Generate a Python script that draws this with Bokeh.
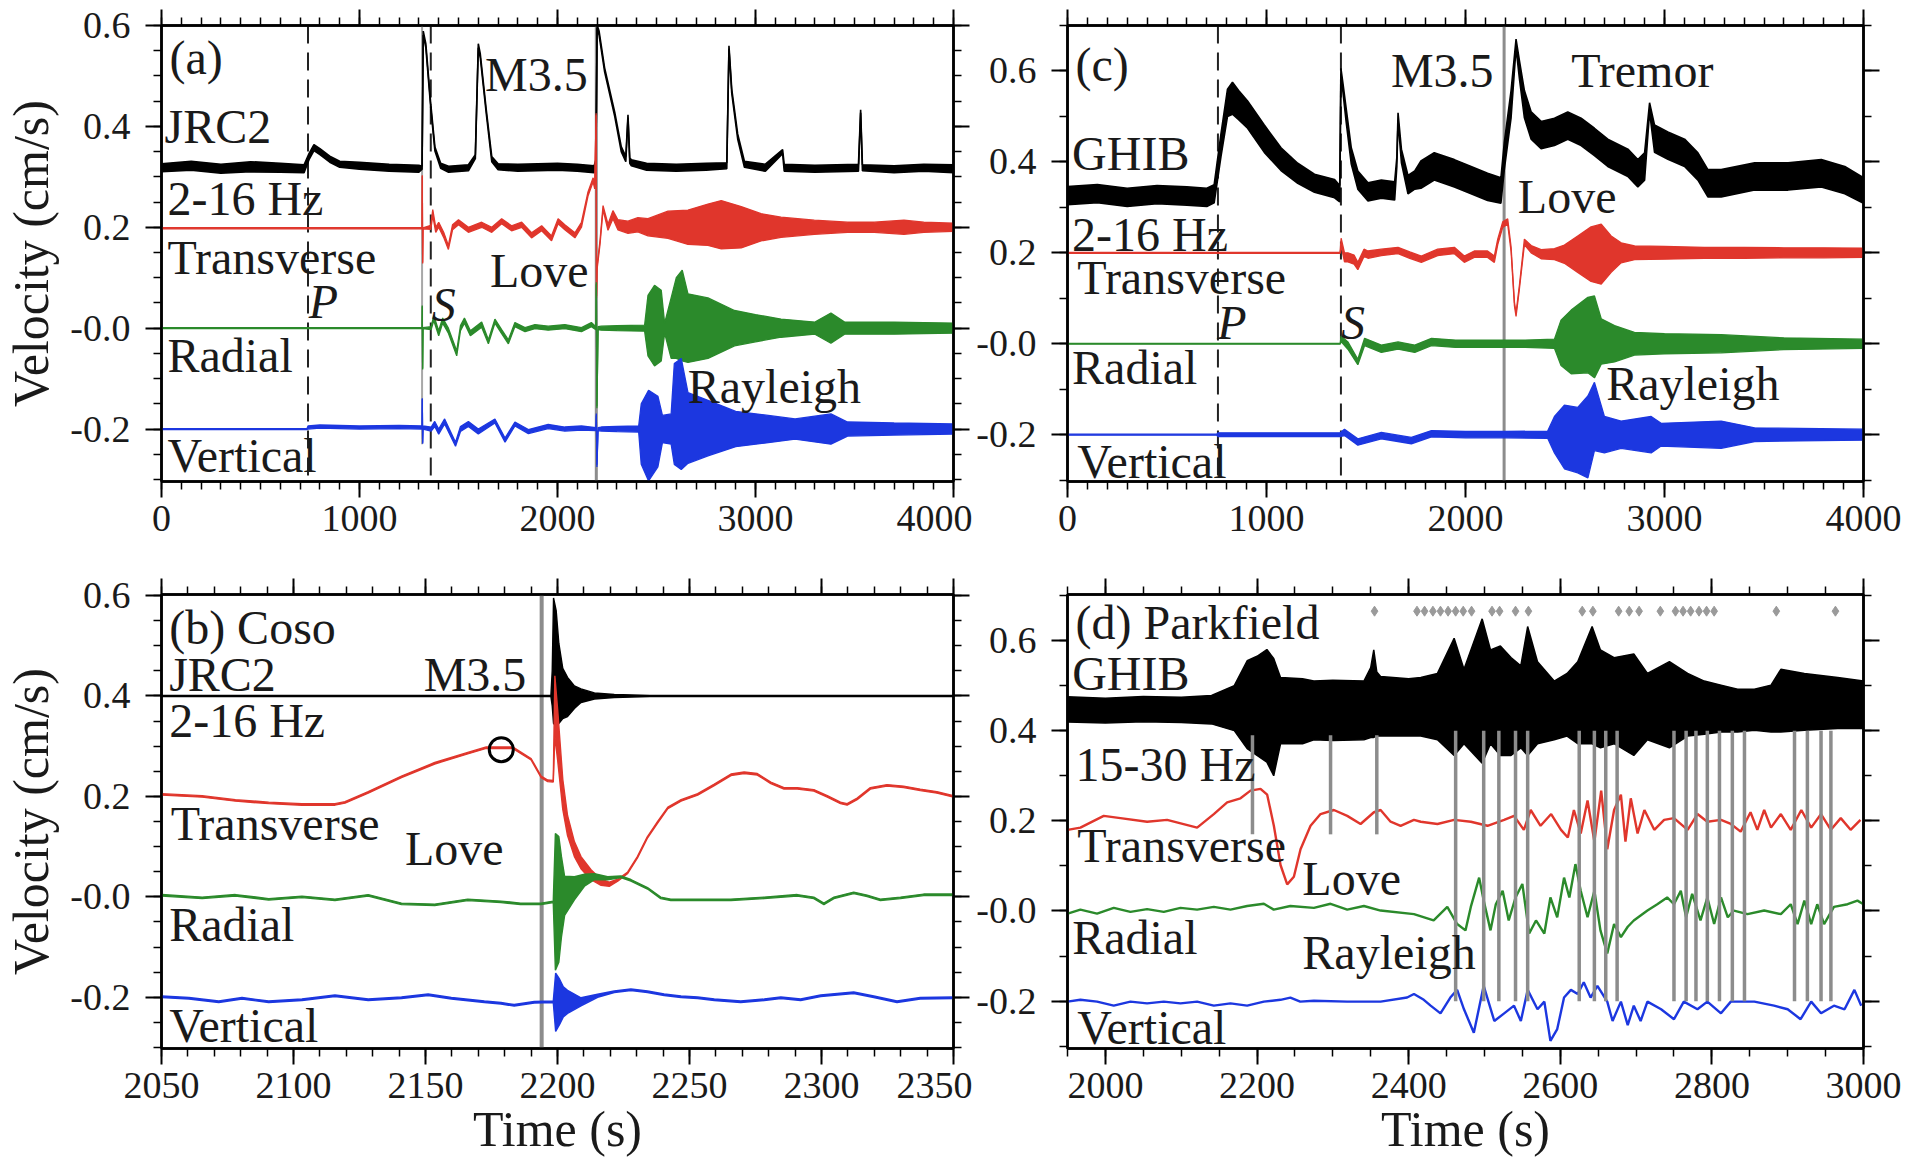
from bokeh.plotting import figure
from bokeh.models import FixedTicker, LinearAxis, Range1d, Span
from bokeh.layouts import gridplot
from bokeh.embed import file_html
from bokeh.resources import INLINE
from bokeh.core.properties import value

FONT = "Liberation Serif"
RED, GREEN, BLUE, INK, GRAY = "#e0362c", "#2b8a2b", "#1c37e0", "#000000", "#8c8c8c"
TXT = "#1a1a1a"

# ------------------------------------------------------------------ data
# Panel (a): JRC2, 2-16 Hz envelope + three components (time s, trace centre, half spread) in cm/s
a_jrc2_t = [0, 150, 300, 450, 600, 720, 745, 770, 800, 850, 900, 1000, 1150, 1300, 1316, 1322, 1335, 1360, 1381, 1410,
            1450, 1550, 1585, 1600, 1610, 1640, 1668, 1700, 1800, 2000, 2100, 2185, 2194, 2200, 2210, 2238, 2289, 2322, 2345, 2356,
            2365, 2373, 2450, 2600, 2750, 2855, 2866, 2880, 2910, 2944, 3050, 3137, 3145, 3300, 3520, 3531, 3540, 3700, 3850, 4000]
a_jrc2_mid = [.318, .322, .316, .320, .318, .316, .340, .358, .350, .335, .325, .322, .318, .316, .318, .585, .560, .440, .355, .322,
              .315, .318, .340, .560, .540, .430, .335, .320, .318, .320, .318, .315, .330, .598, .585, .512, .424, .355, .335, .420,
              .332, .328, .320, .318, .320, .322, .557, .470, .380, .325, .318, .350, .318, .316, .318, .430, .318, .315, .318, .316]
a_jrc2_spr = [.008, .009, .009, .010, .009, .008, .006, .006, .006, .006, .006, .007, .007, .007, .003, .004, .004, .004, .004, .005,
              .006, .006, .004, .004, .004, .004, .005, .006, .007, .007, .007, .007, .004, .003, .004, .004, .004, .005, .005, .003,
              .005, .006, .007, .007, .007, .006, .003, .004, .005, .006, .007, .004, .007, .007, .007, .003, .006, .007, .007, .008]

a_tr_t = [0, 1300, 1316, 1317, 1319, 1321, 1360, 1370, 1385, 1400, 1425, 1449, 1470, 1500, 1550, 1617, 1668, 1718, 1768, 1819,
          1869, 1920, 1970, 2003, 2037, 2088, 2121, 2154, 2180, 2188, 2195, 2197, 2200, 2215, 2230, 2255, 2280, 2305, 2356, 2406,
          2457, 2558, 2659, 2760, 2827, 2928, 3028, 3129, 3297, 3465, 3600, 3750, 3850, 4000]
a_tr_mid = [.198, .198, .198, .302, .129, .198, .200, .229, .195, .205, .185, .160, .200, .210, .195, .205, .195, .212, .198, .205,
            .184, .198, .178, .212, .200, .184, .205, .266, .294, .280, .424, .062, .120, .171, .239, .200, .225, .205, .200, .205,
            .200, .205, .200, .205, .205, .200, .200, .200, .200, .200, .200, .200, .200, .200]
a_tr_spr = [.001, .001, .001, .001, .001, .001, .004, .006, .005, .005, .005, .004, .005, .005, .005, .005, .005, .005, .005, .005,
            .005, .005, .005, .005, .005, .005, .005, .004, .004, .004, .002, .002, .003, .004, .004, .006, .008, .010, .012, .014,
            .017, .027, .034, .041, .048, .041, .027, .020, .014, .010, .010, .014, .010, .008]

a_ra_t = [0, 1316, 1317, 1319, 1321, 1362, 1375, 1400, 1420, 1449, 1491, 1510, 1530, 1560, 1617, 1651, 1684, 1718, 1752, 1785,
          1836, 1886, 1953, 2037, 2121, 2171, 2194, 2196, 2199, 2205, 2221, 2300, 2440, 2457, 2490, 2524, 2541, 2574, 2600, 2630,
          2659, 2760, 2894, 3000, 3129, 3300, 3381, 3450, 3700, 4000]
a_ra_mid = [0, 0, .044, -.081, 0, 0, .020, -.010, .015, -.005, -.050, 0, .015, -.010, .007, -.027, .014, -.007, -.027, .007,
            -.003, .003, 0, .003, -.003, .007, 0, .089, -.157, 0, 0, 0, 0, .005, .005, .005, 0, 0, .020, .025,
            0, 0, 0, 0, 0, 0, 0, 0, 0, 0]
a_ra_spr = [.001, .001, .001, .001, .001, .003, .005, .005, .005, .005, .005, .005, .005, .005, .005, .004, .004, .004, .004, .004,
            .004, .004, .004, .004, .004, .004, .003, .002, .002, .003, .004, .005, .006, .060, .080, .070, .010, .060, .080, .090,
            .068, .060, .035, .027, .018, .012, .030, .012, .012, .010]

a_ve_t = [0, 735, 740, 800, 1000, 1200, 1316, 1317, 1319, 1321, 1362, 1380, 1400, 1430, 1485, 1510, 1550, 1600, 1684, 1735,
          1785, 1853, 1953, 2037, 2121, 2194, 2196, 2199, 2205, 2221, 2300, 2410, 2423, 2460, 2507, 2530, 2574, 2590, 2625, 2659,
          2760, 2900, 3045, 3200, 3381, 3465, 3700, 4000]
a_ve_mid = [-.200, -.200, -.197, -.195, -.197, -.196, -.197, -.140, -.228, -.197, -.200, -.190, -.205, -.185, -.230, -.200, -.190, -.205, -.184, -.222,
            -.190, -.205, -.195, -.200, -.198, -.200, -.171, -.273, -.200, -.200, -.200, -.200, -.210, -.213, -.205, -.200, -.200, -.170, -.170, -.198,
            -.198, -.200, -.200, -.200, -.200, -.200, -.200, -.200]
a_ve_spr = [.001, .001, .003, .003, .003, .003, .003, .001, .001, .003, .004, .005, .005, .005, .004, .005, .005, .005, .004, .004,
            .004, .004, .004, .004, .004, .003, .002, .002, .003, .004, .005, .006, .060, .090, .070, .027, .030, .100, .110, .070,
            .055, .035, .028, .020, .030, .014, .012, .010]

a_phase_t = [740, 1360]          # P and S arrivals (dashed)
a_event_t = [2196]               # M3.5 origin (grey line)
a_glitch_t = [1316]              # short grey line
a_glitch_lo, a_glitch_hi = [-0.23], [0.6]

# Panel (c): GHIB
c_ghib_t = [0, 150, 300, 450, 600, 700, 737, 771, 804, 829, 860, 905, 989, 1073, 1157, 1241, 1342, 1368, 1374, 1385,
            1400, 1426, 1459, 1510, 1577, 1644, 1655, 1661, 1678, 1711, 1745, 1776, 1843, 1944, 2028, 2111, 2178, 2195, 2229, 2254,
            2271, 2296, 2330, 2380, 2447, 2514, 2581, 2648, 2715, 2816, 2866, 2900, 2925, 2950, 3017, 3101, 3168, 3218, 3285, 3453,
            3621, 3788, 3906, 4000]
c_ghib_mid = [.326, .330, .322, .328, .325, .322, .330, .436, .530, .540, .525, .504, .451, .406, .375, .353, .341, .330, .600, .560,
              .504, .413, .360, .334, .340, .336, .400, .500, .413, .350, .360, .372, .390, .375, .360, .345, .337, .413, .527, .660,
              .603, .527, .480, .459, .466, .480, .466, .444, .420, .398, .375, .390, .520, .451, .436, .420, .390, .353, .353, .368,
              .368, .375, .360, .337]
c_ghib_spr = [.020, .020, .020, .020, .020, .020, .020, .025, .030, .035, .032, .030, .030, .025, .022, .020, .020, .018, .006, .010,
              .015, .018, .020, .020, .020, .020, .010, .008, .015, .020, .020, .030, .030, .030, .030, .030, .028, .030, .030, .010,
              .020, .030, .030, .030, .030, .030, .030, .030, .030, .030, .030, .030, .010, .030, .030, .030, .030, .030, .030, .030,
              .030, .030, .030, .028]

c_tr_t = [0, 1370, 1375, 1392, 1409, 1440, 1459, 1490, 1510, 1577, 1661, 1720, 1778, 1860, 1944, 1994, 2044, 2111, 2145, 2162,
          2187, 2212, 2229, 2246, 2254, 2271, 2296, 2330, 2380, 2447, 2497, 2564, 2631, 2682, 2732, 2782, 2850, 3000, 3200, 3400,
          3600, 3800, 4000]
c_tr_mid = [.200, .200, .224, .190, .190, .185, .171, .200, .196, .201, .205, .195, .186, .201, .205, .186, .197, .197, .186, .224,
            .262, .269, .208, .087, .064, .125, .224, .208, .197, .197, .197, .197, .197, .197, .197, .200, .200, .200, .200, .200,
            .200, .200, .200]
c_tr_spr = [.001, .001, .008, .010, .010, .010, .008, .008, .008, .007, .007, .007, .007, .007, .007, .007, .007, .007, .007, .006,
            .006, .006, .005, .004, .004, .004, .006, .008, .010, .012, .020, .040, .060, .066, .040, .022, .015, .014, .012, .012,
            .011, .011, .010]

c_ra_t = [0, 1370, 1375, 1409, 1459, 1493, 1577, 1661, 1745, 1829, 1950, 2100, 2190, 2300, 2447, 2480, 2531, 2615, 2648, 2682,
          2749, 2849, 3000, 3285, 3600, 4000]
c_ra_mid = [0, 0, .011, -.004, -.040, .004, -.011, -.004, -.011, .004, 0, 0, 0, 0, 0, .002, .004, .019, .015, .005,
            0, 0, 0, 0, 0, 0]
c_ra_spr = [.001, .001, .006, .008, .006, .008, .008, .008, .008, .008, .008, .008, .008, .008, .010, .050, .070, .083, .090, .050,
            .040, .025, .022, .020, .013, .010]

c_ve_t = [0, 750, 756, 1000, 1370, 1392, 1459, 1577, 1728, 1829, 2000, 2200, 2413, 2447, 2497, 2564, 2615, 2648, 2698, 2782,
          2933, 2983, 3285, 3453, 4000]
c_ve_mid = [-.200, -.200, -.200, -.200, -.200, -.195, -.216, -.202, -.213, -.198, -.200, -.200, -.200, -.200, -.205, -.212, -.205, -.160, -.200, -.200,
            -.200, -.200, -.200, -.200, -.200]
c_ve_spr = [.001, .001, .004, .004, .004, .007, .007, .007, .007, .007, .007, .007, .008, .040, .070, .072, .090, .075, .040, .030,
            .040, .025, .030, .015, .012]

c_phase_t = [756, 1374]
c_event_t = [2194]

# Panel (b): Coso zoom
b_jrc2_t = [2050, 2197.5, 2198.0, 2198.5, 2199.5, 2200.5, 2202, 2203.8, 2206.4, 2208.9, 2214, 2221.5, 2235, 2350]
b_jrc2_mid = [.400, .400, .415, .470, .455, .425, .405, .398, .3975, .4005, .400, .400, .400, .400]
b_jrc2_spr = [.001, .001, .035, .125, .115, .080, .050, .039, .0225, .0135, .006, .003, .001, .001]

b_tr_t = [2050.1, 2065.4, 2078, 2090.6, 2103.2, 2115.7, 2119.5, 2128.3, 2140.9, 2153.5, 2166, 2173, 2178.6, 2183, 2190,
          2193.8, 2196.3, 2198.4, 2199.0, 2200.1, 2202, 2203.8, 2206.4, 2208.9, 2212.7, 2216.5, 2219.6, 2222.8, 2226.6, 2230.3,
          2234, 2238, 2241.8, 2246.8, 2253.1, 2259.4, 2265.7, 2270.7, 2275.7, 2280.8, 2285.8, 2290.8, 2297.1, 2302.2, 2307.2,
          2309.7, 2313.5, 2318.5, 2324.8, 2331.1, 2337.4, 2343.7, 2350]
b_tr_mid = [.204, .200, .192, .187, .184, .184, .188, .208, .239, .266, .286, .297, .297, .297, .274,
            .239, .231, .230, .380, .320, .204, .142, .095, .068, .044, .029, .025, .033, .048, .079,
            .118, .149, .177, .192, .204, .223, .243, .247, .244, .227, .216, .216, .212, .200, .187,
            .184, .195, .216, .222, .219, .213, .208, .200]
b_tr_spr = [.0015, .0015, .0015, .0015, .0015, .0015, .0015, .0015, .0015, .0015, .0015, .0015, .0015, .0015, .0015,
            .0015, .0015, .0015, .060, .050, .030, .020, .015, .012, .010, .006, .004, .002, .0015, .0015,
            .0015, .0015, .0015, .0015, .0015, .0015, .0015, .0015, .0015, .0015, .0015, .0015, .0015, .0015, .0015,
            .0015, .0015, .0015, .0015, .0015, .0015, .0015, .0015]

b_ra_t = [2050.1, 2065.4, 2078, 2090.6, 2103.2, 2115.7, 2128.3, 2140.9, 2153.5, 2166, 2178.6, 2186, 2193.8, 2198.4, 2199.2,
          2200.5, 2201.5, 2202.7, 2206.4, 2210.2, 2214, 2219, 2224, 2227.8, 2234.1, 2239.1, 2242.9, 2253.1, 2265.7, 2278.3,
          2290.8, 2297.1, 2300.9, 2304.7, 2312.2, 2317.3, 2322.3, 2329.9, 2338.7, 2350]
b_ra_mid = [.003, -.002, .003, -.005, 0, -.006, .003, -.014, -.016, -.006, -.010, -.014, -.014, -.010, -.010,
            -.005, 0, .002, .017, .033, .040, .037, .040, .033, .017, -.002, -.006, -.006, -.006, -.002,
            .003, -.002, -.014, -.002, .008, .002, -.006, -.002, .004, .004]
b_ra_spr = [.0015, .0015, .0015, .0015, .0015, .0015, .0015, .0015, .0015, .0015, .0015, .0015, .0015, .0015, .136,
            .125, .080, .039, .023, .012, .006, .003, .0015, .0015, .0015, .0015, .0015, .0015, .0015, .0015,
            .0015, .0015, .0015, .0015, .0015, .0015, .0015, .0015, .0015, .0015]

b_ve_t = [2050.1, 2060.4, 2071.7, 2080.5, 2090.6, 2103.2, 2115.7, 2128.3, 2140.9, 2151, 2159.8, 2172.3, 2178.6, 2183.6, 2191.2,
          2198.4, 2199.3, 2200.8, 2202.2, 2203.8, 2208.9, 2215.2, 2221.5, 2227.8, 2234.1, 2240.4, 2246.8, 2253.1, 2259.4, 2269.4,
          2278.3, 2284.6, 2292.1, 2299.7, 2312.2, 2319.8, 2328.6, 2337.4, 2350]
b_ve_mid = [-.199, -.202, -.209, -.202, -.209, -.205, -.197, -.205, -.201, -.195, -.202, -.209, -.212, -.216, -.210,
            -.209, -.210, -.209, -.209, -.209, -.209, -.197, -.189, -.185, -.189, -.195, -.199, -.201, -.205, -.209,
            -.205, -.201, -.205, -.197, -.191, -.199, -.209, -.202, -.201]
b_ve_spr = [.0015, .0015, .0015, .0015, .0015, .0015, .0015, .0015, .0015, .0015, .0015, .0015, .0015, .0015, .0015,
            .0015, .058, .045, .030, .023, .008, .003, .0015, .0015, .0015, .0015, .0015, .0015, .0015, .0015,
            .0015, .0015, .0015, .0015, .0015, .0015, .0015, .0015, .0015]

b_event_t = [2194]
b_circle_t, b_circle_v = [2178.7], [0.293]

# Panel (d): Parkfield, GHIB 15-30 Hz band (lower / upper edge) + components
d_ghib_t = [1950, 2000, 2050, 2100, 2140, 2170, 2187, 2200, 2213, 2222, 2231, 2260, 2275, 2300, 2341, 2350, 2354, 2358, 2363, 2400,
            2416, 2438, 2460, 2473, 2497, 2508, 2521, 2535, 2548, 2557, 2570, 2592, 2609, 2623, 2642, 2653, 2671, 2697, 2715, 2744,
            2768, 2790, 2812, 2834, 2856, 2878, 2891, 2922, 2966, 3000]
d_ghib_lo = [.419, .417, .420, .418, .415, .400, .360, .345, .330, .300, .371, .371, .380, .378, .380, .385, .385, .388, .388, .388,
             .388, .380, .345, .371, .328, .371, .345, .345, .362, .345, .371, .380, .388, .371, .371, .362, .371, .345, .380, .362,
             .388, .392, .397, .397, .401, .397, .397, .401, .405, .405]
d_ghib_hi = [.475, .472, .476, .474, .478, .500, .555, .565, .580, .560, .518, .515, .510, .512, .510, .540, .579, .530, .520, .515,
             .518, .527, .605, .536, .648, .579, .588, .562, .544, .631, .553, .510, .527, .553, .631, .579, .562, .570, .527, .553,
             .527, .510, .501, .492, .492, .501, .536, .527, .518, .510]

d_tr_t = [1950.2, 1967, 1997.8, 2019.8, 2055, 2081.4, 2121, 2143, 2160.6, 2178.2, 2191.4, 2204.6, 2213.4, 2222.2, 2231,
          2239.8, 2248.6, 2257.4, 2270.6, 2283.8, 2301.4, 2319, 2336.6, 2354.2, 2363, 2376.2, 2389.4, 2407,
          2416, 2438, 2460, 2482, 2504, 2526, 2539, 2552, 2561, 2574, 2588, 2601, 2610, 2618, 2627,
          2636, 2645, 2654, 2662, 2671, 2680, 2686, 2693, 2702, 2711, 2724, 2737, 2750, 2768, 2781,
          2794, 2812, 2825, 2838, 2851, 2860, 2869, 2878, 2891, 2904, 2918, 2931, 2944, 2957, 2970, 2983, 2996]
d_tr_v = [.180, .185, .211, .206, .198, .202, .185, .215, .241, .250, .267, .271, .258, .189, .102,
          .059, .076, .137, .189, .215, .224, .211, .193, .219, .224, .198, .189, .202,
          .198, .193, .202, .198, .189, .202, .211, .180, .224, .189, .215, .180, .163, .224, .172,
          .245, .154, .267, .137, .224, .258, .154, .250, .172, .224, .180, .202, .206, .180, .215,
          .198, .202, .193, .176, .219, .180, .224, .185, .215, .180, .224, .185, .215, .180, .206, .180, .202]

d_ra_t = [1950.2, 1967, 1989, 2011, 2033, 2055, 2077, 2099, 2121, 2143, 2165, 2187, 2209, 2222, 2244, 2275, 2297, 2319, 2341,
          2363, 2407, 2433, 2451, 2464, 2475, 2482, 2493, 2499, 2508, 2515, 2524, 2532, 2541, 2550, 2559, 2568, 2579, 2587, 2596,
          2605, 2612, 2620, 2627, 2636, 2645, 2653, 2662, 2671, 2680, 2689, 2697, 2715, 2728, 2741, 2750, 2759, 2766, 2774, 2785,
          2794, 2803, 2812, 2821, 2829, 2847, 2869, 2891, 2904, 2913, 2922, 2931, 2939, 2948, 2961, 2979, 2992, 3000]
d_ra_v = [-.006, .003, -.006, .007, -.002, .004, -.002, .007, .003, .009, .003, .011, .016, .003, .011, .007, .016, .003, .011,
          .001, -.007, -.021, .009, -.029, -.043, .009, .074, .023, -.043, .015, .045, -.021, .030, .060, -.050, -.021, -.050, .030, -.014,
          .074, .030, .104, .045, -.014, .045, -.043, -.094, -.029, -.058, -.035, -.021, .001, .015, .030, .015, .045, -.014, .038, -.021,
          .030, -.029, .030, -.014, .001, -.007, .001, -.007, .015, -.029, .023, -.029, .015, -.029, .009, .015, .023, .015]

d_ve_t = [1950, 1967, 1989, 2011, 2033, 2055, 2077, 2099, 2121, 2143, 2165, 2187, 2209, 2231, 2244, 2257, 2275, 2319, 2363, 2398,
          2407, 2420, 2429, 2442, 2455, 2464, 2473, 2486, 2499, 2513, 2526, 2539, 2548, 2557, 2570, 2579, 2587,
          2596, 2605, 2614, 2623, 2631, 2640, 2649, 2662, 2669, 2680, 2689, 2697, 2706, 2715, 2733,
          2750, 2763, 2781, 2794, 2812, 2825, 2856, 2882, 2900, 2917, 2931, 2944, 2961, 2975, 2988, 2997]
d_ve_v = [-.201, -.197, -.201, -.210, -.201, -.205, -.201, -.205, -.201, -.210, -.205, -.210, -.201, -.197, -.192, -.201, -.199, -.201, -.201, -.192,
          -.184, -.197, -.210, -.227, -.192, -.175, -.218, -.270, -.166, -.244, -.227, -.210, -.244, -.175, -.218, -.201, -.288,
          -.262, -.192, -.175, -.184, -.158, -.192, -.166, -.201, -.244, -.201, -.253, -.210, -.244, -.201, -.218,
          -.240, -.201, -.218, -.201, -.227, -.201, -.201, -.210, -.218, -.240, -.201, -.227, -.210, -.218, -.175, -.210]

d_short_t = [2194, 2297, 2358]                 # grey detection lines (short)
d_short_top, d_short_bot = 0.39, 0.17
d_long_t = [2462, 2499, 2519, 2541, 2557, 2625, 2645, 2660, 2675, 2750, 2766, 2779, 2794, 2810, 2827, 2843, 2909, 2926, 2944, 2957]
d_long_top, d_long_bot = 0.40, -0.20
d_mark_t = [2355, 2411, 2421, 2432, 2442, 2452, 2462, 2472, 2483, 2510, 2520, 2541, 2558, 2629, 2643, 2677, 2691, 2704,
            2732, 2752, 2762, 2772, 2783, 2793, 2803, 2885, 2963]
d_mark_level = 0.665

# labels: (text, time, velocity) placements
a_labels = [("(a)", 40, 0.537), ("JRC2", 15, 0.400), ("2-16 Hz", 30, 0.257), ("Transverse", 30, 0.141),
            ("Radial", 30, -0.054), ("Vertical", 30, -0.252), ("M3.5", 1634, 0.503), ("Love", 1659, 0.114),
            ("Rayleigh", 2658, -0.115)]
a_italic = [("P", 744, 0.052), ("S", 1365, 0.047)]
c_labels = [("(c)", 40, 0.615), ("GHIB", 23, 0.418), ("2-16 Hz", 23, 0.240), ("Transverse", 49, 0.145),
            ("Radial", 23, -0.052), ("Vertical", 49, -0.258), ("M3.5", 1625, 0.600), ("Tremor", 2531, 0.600),
            ("Love", 2263, 0.323), ("Rayleigh", 2707, -0.088)]
c_italic = [("P", 753, 0.047), ("S", 1374, 0.047)]
b_labels = [("(b) Coso", 2052.9, 0.536), ("JRC2", 2052.9, 0.443), ("2-16 Hz", 2052.9, 0.351), ("M3.5", 2149.3, 0.443),
            ("Transverse", 2053.5, 0.147), ("Love", 2142.2, 0.097), ("Radial", 2052.9, -0.055), ("Vertical", 2052.9, -0.257)]
d_labels = [("(d) Parkfield", 1960.6, 0.639), ("GHIB", 1956.2, 0.526), ("15-30 Hz", 1960.6, 0.326),
            ("Transverse", 1962.8, 0.145), ("Love", 2259.8, 0.072), ("Radial", 1956.2, -0.058),
            ("Rayleigh", 2259.8, -0.091), ("Vertical", 1962.8, -0.259)]

Y_TICKS = [-0.2, 0, 0.2, 0.4, 0.6]
Y_TEXT = {-0.2: "-0.2", 0: "-0.0", 0.2: "0.2", 0.4: "0.4", 0.6: "0.6"}


def check(*arrs):
    n = len(arrs[0])
    for a in arrs:
        if len(a) != n:
            raise ValueError("length mismatch %d vs %d" % (n, len(a)))


# ------------------------------------------------------------------ helpers
def style_axis(ax, labels=True):
    ax.axis_line_color = "black"
    ax.axis_line_width = 2.5
    ax.major_tick_in = 0
    ax.major_tick_out = 16
    ax.minor_tick_in = 0
    ax.minor_tick_out = 8
    ax.major_tick_line_color = "black"
    ax.major_tick_line_width = 2
    ax.minor_tick_line_color = "black"
    ax.minor_tick_line_width = 1.5
    if labels:
        ax.major_label_text_font = FONT
        ax.major_label_text_font_size = "38px"
        ax.major_label_text_color = TXT
    else:
        # tick marks only: no tick texts at all
        ax.major_label_text_color = None
        ax.major_label_text_alpha = 0
        ax.major_label_standoff = 0


def panel(width, height, left, right, top, bottom, xr, yr, xt, xm, ym, ylab=None, xlab=None):
    p = figure(width=width, height=height, x_range=Range1d(*xr), y_range=Range1d(*yr),
               output_backend="svg", toolbar_location=None, tools="",
               min_border_left=left, min_border_right=right, min_border_top=top, min_border_bottom=bottom)
    p.xgrid.visible = False
    p.ygrid.visible = False
    p.outline_line_color = "black"
    p.outline_line_width = 2.5
    p.outline_line_alpha = 1.0
    p.background_fill_color = "white"
    p.border_fill_color = "white"
    xb, yl = p.xaxis[0], p.yaxis[0]
    xb.ticker = FixedTicker(ticks=xt, minor_ticks=xm)
    yl.ticker = FixedTicker(ticks=Y_TICKS, minor_ticks=ym)
    style_axis(xb)
    style_axis(yl)
    xb.major_label_standoff = 8
    yl.major_label_standoff = 15
    yl.major_label_overrides = Y_TEXT
    for ax, lab, sd in ((yl, ylab, 8), (xb, xlab, 0)):
        if lab:
            ax.axis_label = lab
            ax.axis_label_text_font = FONT
            ax.axis_label_text_font_size = "50px"
            ax.axis_label_text_font_style = "normal"
            ax.axis_label_text_color = TXT
            ax.axis_label_standoff = sd
    top_ax = LinearAxis(ticker=FixedTicker(ticks=xt, minor_ticks=xm))
    style_axis(top_ax, False)
    p.add_layout(top_ax, "above")
    right_ax = LinearAxis(ticker=FixedTicker(ticks=Y_TICKS, minor_ticks=ym))
    style_axis(right_ax, False)
    p.add_layout(right_ax, "right")
    return p


def band(p, t, mid, spr, color, lw=1.3):
    check(t, mid, spr)
    lo = [m - s for m, s in zip(mid, spr)]
    hi = [m + s for m, s in zip(mid, spr)]
    p.varea(x=t, y1=lo, y2=hi, fill_color=color)
    p.line(t, lo, line_color=color, line_width=lw)
    p.line(t, hi, line_color=color, line_width=lw)


def labels(p, items, italic=False):
    p.text(x=[i[1] for i in items], y=[i[2] for i in items], text=[i[0] for i in items],
           text_font=value(FONT), text_font_size="48px", text_color=TXT,
           text_align="left", text_baseline="middle",
           text_font_style="italic" if italic else "normal")


def vspan(p, t, color, width, dash="solid"):
    p.add_layout(Span(location=t, dimension="height", line_color=color, line_width=width,
                      line_dash=dash, level="underlay"))


def ticks_range(a, b, step):
    out, v = [], a
    while v <= b + 1e-9:
        out.append(round(v, 4))
        v += step
    return out


YM_AB = ticks_range(-0.3, 0.6, 0.05)
YM_CD = ticks_range(-0.3, 0.7, 0.1)

# ------------------------------------------------------------------ panel (a)
pa = panel(972, 560, 159, 19, 25, 79, (0, 4000), (-0.304, 0.600),
           [0, 1000, 2000, 3000, 4000], ticks_range(0, 4000, 100), YM_AB, ylab="Velocity (cm/s)")
for t in a_phase_t:
    vspan(pa, t, "#222222", 2, "18 9")
for t in a_event_t:
    vspan(pa, t, GRAY, 3)
pa.segment(x0=a_glitch_t, y0=a_glitch_lo, x1=a_glitch_t, y1=a_glitch_hi, line_color="#a8a8a8", line_width=2)
band(pa, a_jrc2_t, a_jrc2_mid, a_jrc2_spr, INK, 1.6)
band(pa, a_tr_t, a_tr_mid, a_tr_spr, RED)
band(pa, a_ra_t, a_ra_mid, a_ra_spr, GREEN)
band(pa, a_ve_t, a_ve_mid, a_ve_spr, BLUE)
labels(pa, a_labels)
labels(pa, a_italic, italic=True)

# ------------------------------------------------------------------ panel (c)
pc = panel(943, 560, 95, 52, 25, 79, (0, 4000), (-0.303, 0.700),
           [0, 1000, 2000, 3000, 4000], ticks_range(0, 4000, 100), YM_CD)
for t in c_phase_t:
    vspan(pc, t, "#222222", 2, "18 9")
for t in c_event_t:
    vspan(pc, t, GRAY, 3)
band(pc, c_ghib_t, c_ghib_mid, c_ghib_spr, INK, 1.6)
band(pc, c_tr_t, c_tr_mid, c_tr_spr, RED)
band(pc, c_ra_t, c_ra_mid, c_ra_spr, GREEN)
band(pc, c_ve_t, c_ve_mid, c_ve_spr, BLUE)
labels(pc, c_labels)
labels(pc, c_italic, italic=True)

# ------------------------------------------------------------------ panel (b)
pb = panel(972, 612, 159, 19, 34, 124, (2050, 2350), (-0.302, 0.602),
           [2050, 2100, 2150, 2200, 2250, 2300, 2350], ticks_range(2050, 2350, 10), YM_AB,
           ylab="Velocity (cm/s)", xlab="Time (s)")
for t in b_event_t:
    vspan(pb, t, GRAY, 4)
band(pb, b_jrc2_t, b_jrc2_mid, b_jrc2_spr, INK, 1.4)
band(pb, b_tr_t, b_tr_mid, b_tr_spr, RED, 1.4)
band(pb, b_ra_t, b_ra_mid, b_ra_spr, GREEN, 1.4)
band(pb, b_ve_t, b_ve_mid, b_ve_spr, BLUE, 1.4)
pb.scatter(x=b_circle_t, y=b_circle_v, marker="circle", size=24, fill_color=None, line_color="black", line_width=3)
labels(pb, b_labels)

# ------------------------------------------------------------------ panel (d)
pd = panel(943, 612, 95, 52, 34, 124, (1950, 3000), (-0.305, 0.702),
           [2000, 2200, 2400, 2600, 2800, 3000], ticks_range(1950, 3000, 50), YM_CD, xlab="Time (s)")
check(d_ghib_t, d_ghib_lo, d_ghib_hi)
check(d_tr_t, d_tr_v)
check(d_ra_t, d_ra_v)
check(d_ve_t, d_ve_v)
pd.varea(x=d_ghib_t, y1=d_ghib_lo, y2=d_ghib_hi, fill_color=INK)
pd.line(d_ghib_t, d_ghib_lo, line_color=INK, line_width=1.5)
pd.line(d_ghib_t, d_ghib_hi, line_color=INK, line_width=1.5)
pd.line(d_tr_t, d_tr_v, line_color=RED, line_width=2.4)
pd.line(d_ra_t, d_ra_v, line_color=GREEN, line_width=2.4)
pd.line(d_ve_t, d_ve_v, line_color=BLUE, line_width=2.4)
pd.segment(x0=d_short_t, y0=[d_short_bot] * len(d_short_t), x1=d_short_t, y1=[d_short_top] * len(d_short_t),
           line_color=GRAY, line_width=3.5)
pd.segment(x0=d_long_t, y0=[d_long_bot] * len(d_long_t), x1=d_long_t, y1=[d_long_top] * len(d_long_t),
           line_color=GRAY, line_width=3.5)
pd.scatter(x=d_mark_t, y=[d_mark_level] * len(d_mark_t), marker="diamond", size=10,
           fill_color="#9a9a9a", line_color="#9a9a9a")
labels(pd, d_labels)

grid = gridplot([[pa, pc], [pb, pd]], toolbar_location=None)
open("out.html", "w").write(file_html(grid, INLINE, "Velocity seismograms"))
